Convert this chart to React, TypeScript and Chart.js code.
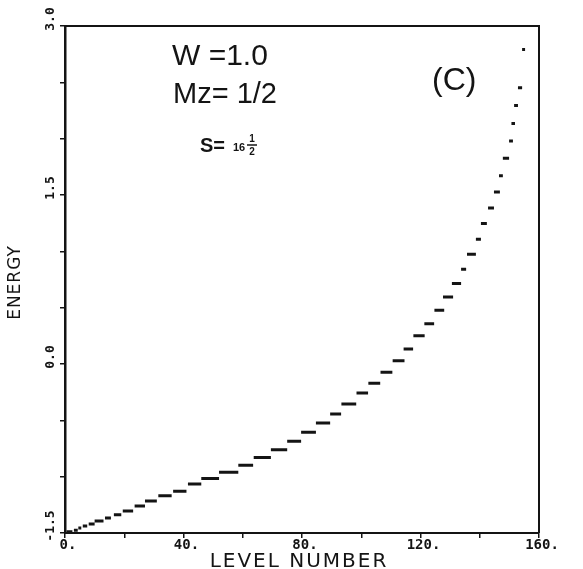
import React, { useEffect, useRef } from 'react';
import { Chart, registerables } from 'chart.js';

Chart.register(...registerables);

// Energy-level dashes: each dash spans a range of level numbers at one energy
const levelStart = [0.5, 3, 4.5, 6, 8, 10, 13.5, 16.5, 19.5, 23.5, 27, 31.5, 36.5, 41.5, 46, 52, 58.5, 63.7, 69.5, 75, 79.7, 84.7, 89.5, 93.3, 98.4, 102.4, 106.5, 110.6, 114.3, 117.6, 121.3, 124.7, 127.6, 130.6, 133.7, 135.7, 138.7, 140.4, 142.8, 144.8, 146.5, 147.8, 149.9, 150.7, 151.6, 152.9, 154.3];
const levelEnd = [2.5, 4.3, 5.5, 7.5, 10, 13, 15.5, 19, 23, 27, 31, 36, 41, 46, 52, 58.5, 63.5, 69.5, 75, 79.7, 84.7, 89.5, 93.2, 98.3, 102.3, 106.4, 110.5, 114.6, 117.5, 121.4, 124.6, 128, 131, 133.7, 135.4, 138.7, 140.4, 142.4, 144.8, 146.8, 147.8, 149.9, 151.2, 151.9, 152.9, 154.3, 155.3];
const energy = [-1.49, -1.475, -1.455, -1.438, -1.42, -1.394, -1.367, -1.338, -1.305, -1.26, -1.216, -1.17, -1.13, -1.066, -1.016, -0.96, -0.898, -0.83, -0.76, -0.686, -0.606, -0.524, -0.444, -0.356, -0.258, -0.17, -0.073, 0.028, 0.134, 0.25, 0.358, 0.476, 0.595, 0.715, 0.842, 0.975, 1.108, 1.246, 1.385, 1.527, 1.67, 1.827, 1.98, 2.134, 2.294, 2.453, 2.792];

const xMin = 0;
const xMax = 160;
const xTickStep = 20;
const xLabelStep = 40;
const yMin = -1.5;
const yMax = 3.0;
const yTickStep = 0.5;
const yLabelStep = 1.5;

const xTitle = 'LEVEL NUMBER';
const yTitle = 'ENERGY';
const noteW = 'W =1.0';
const noteM = 'Mz= 1/2';
const noteS = 'S=';
const noteSInt = '16';
const noteSNum = '1';
const noteSDen = '2';
const panelTag = '(C)';

const INK = '#141414';

const decorPlugin = {
  id: 'decor',
  afterDraw(chart: any) {
    const { ctx, chartArea: a } = chart;
    ctx.save();
    // top and right frame
    ctx.strokeStyle = INK;
    ctx.lineWidth = 2;
    ctx.beginPath();
    ctx.moveTo(a.left, a.top);
    ctx.lineTo(a.right, a.top);
    ctx.lineTo(a.right, a.bottom);
    ctx.stroke();

    ctx.fillStyle = INK;
    // y title
    ctx.save();
    ctx.translate(16, (a.top + a.bottom) / 2 + 3);
    ctx.rotate(-Math.PI / 2);
    ctx.font = '17px "DejaVu Sans"';
    (ctx as any).letterSpacing = '1px';
    ctx.textAlign = 'center';
    ctx.textBaseline = 'middle';
    ctx.fillText(yTitle, 0, 0);
    ctx.restore();

    // x title
    ctx.save();
    ctx.font = '20px "DejaVu Sans"';
    (ctx as any).letterSpacing = '2px';
    ctx.textAlign = 'center';
    ctx.textBaseline = 'alphabetic';
    ctx.fillText(xTitle, (a.left + a.right) / 2 - 3, 567);
    ctx.restore();

    // annotations
    ctx.save();
    ctx.textAlign = 'left';
    ctx.textBaseline = 'alphabetic';
    ctx.font = '30px "Liberation Sans"';
    ctx.fillText(noteW, 172, 65);
    ctx.font = '29px "Liberation Sans"';
    ctx.fillText(noteM, 173, 103);
    ctx.font = 'bold 20px "Liberation Sans"';
    ctx.fillText(noteS, 200, 152);
    ctx.font = 'bold 11px "Liberation Sans"';
    ctx.fillText(noteSInt, 233, 151);
    ctx.textAlign = 'center';
    ctx.font = 'bold 10px "Liberation Sans"';
    ctx.fillText(noteSNum, 252, 142);
    ctx.fillText(noteSDen, 252, 155);
    ctx.lineWidth = 1.5;
    ctx.beginPath();
    ctx.moveTo(247, 145);
    ctx.lineTo(257, 145);
    ctx.stroke();
    ctx.textAlign = 'left';
    ctx.font = '32px "Liberation Sans"';
    ctx.fillText(panelTag, 432, 90);
    ctx.restore();

    ctx.restore();
  },
};

export default function App() {
  const canvasRef = useRef<HTMLCanvasElement | null>(null);

  useEffect(() => {
    const canvas = canvasRef.current;
    if (!canvas) return;
    const points: { x: number; y: number | null }[] = [];
    energy.forEach((e, i) => {
      points.push({ x: levelStart[i], y: e });
      points.push({ x: levelEnd[i], y: e });
      points.push({ x: levelEnd[i], y: null });
    });

    const chart = new Chart(canvas, {
      type: 'scatter',
      data: {
        datasets: [
          {
            data: points as any,
            showLine: true,
            spanGaps: false,
            borderColor: INK,
            borderWidth: 3,
            borderCapStyle: 'butt',
            pointRadius: 0,
            pointHoverRadius: 0,
          },
        ],
      },
      options: {
        animation: false,
        responsive: false,
        devicePixelRatio: 1,
        layout: { padding: { top: 26, right: 44, left: 0, bottom: 0 } },
        plugins: { legend: { display: false }, tooltip: { enabled: false } },
        scales: {
          x: {
            type: 'linear',
            min: xMin,
            max: xMax,
            ticks: {
              stepSize: xTickStep,
              autoSkip: false,
              minRotation: 0,
              maxRotation: 0,
              padding: -1,
              labelOffset: 3,
              color: INK,
              font: { family: '"DejaVu Sans Mono"', size: 14, weight: 'bold' },
              callback: (v: any) => (Math.abs(v % xLabelStep) < 1e-6 ? `${v}.` : ''),
            },
            grid: { display: true, drawOnChartArea: false, drawTicks: true, tickLength: 5, color: INK, lineWidth: 1.5 },
            border: { display: true, color: INK, width: 2 },
            afterFit: (s: any) => {
              s.height = 36;
            },
          },
          y: {
            type: 'linear',
            min: yMin,
            max: yMax,
            ticks: {
              stepSize: yTickStep,
              autoSkip: false,
              minRotation: 90,
              maxRotation: 90,
              crossAlign: 'center',
              padding: -6,
              labelOffset: -7,
              color: INK,
              font: { family: '"DejaVu Sans Mono"', size: 13, weight: 'bold' },
              callback: (v: any) => {
                const r = v / yLabelStep;
                return Math.abs(r - Math.round(r)) < 1e-6 ? Number(v).toFixed(1) : '';
              },
            },
            grid: { display: true, drawOnChartArea: false, drawTicks: true, tickLength: 5, color: INK, lineWidth: 1.5 },
            border: { display: true, color: INK, width: 2.5 },
            afterFit: (s: any) => {
              s.width = 65;
            },
          },
        },
      } as any,
      plugins: [decorPlugin],
    });
    return () => chart.destroy();
  }, []);

  return (
    <div style={{ position: 'fixed', left: 0, top: 0, width: 583, height: 569, background: '#fff' }}>
      <canvas ref={canvasRef} width={583} height={569} style={{ display: 'block', width: 583, height: 569 }} />
    </div>
  );
}
